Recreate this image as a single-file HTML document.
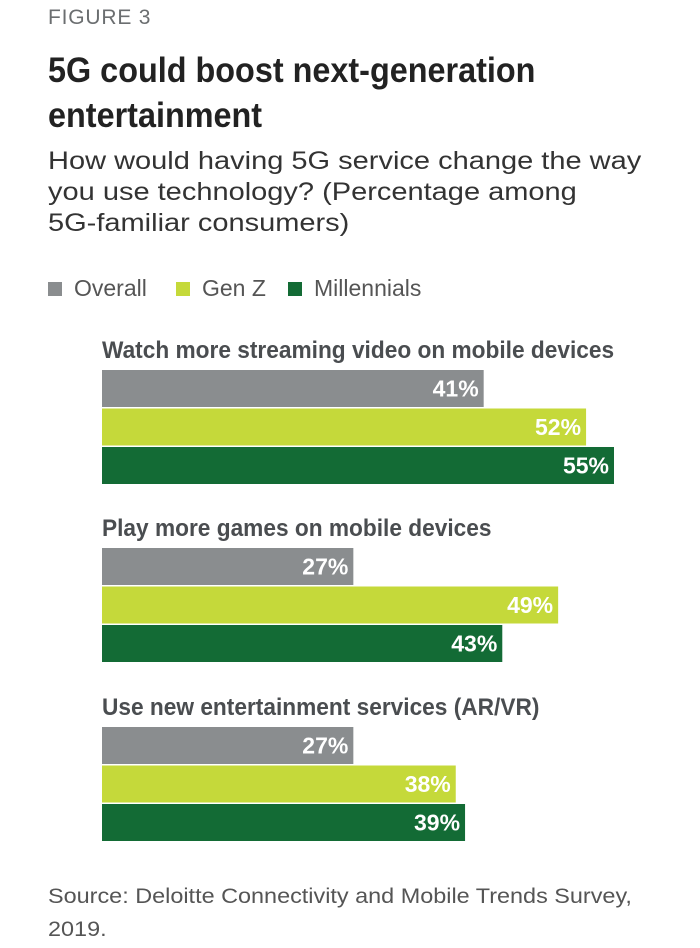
<!DOCTYPE html>
<html><head><meta charset="utf-8"><style>
body{margin:0;background:#fff;width:700px;height:948px;overflow:hidden;font-family:"Liberation Sans",sans-serif;}
.t{position:absolute;white-space:nowrap;transform-origin:0 0;}
</style></head><body>
<div class="t" style="left:48px;top:6px;font-size:21px;color:#6b6e70;letter-spacing:0.8px">FIGURE 3</div>
<div class="t" style="left:48px;top:48px;font-size:35px;line-height:45px;font-weight:bold;color:#222;transform:scaleX(0.925)">5G could boost next-generation<br>entertainment</div>
<div class="t" style="left:48px;top:146px;font-size:25px;line-height:31px;color:#333;transform:scaleX(1.16)">How would having 5G service change the way<br>you use technology? (Percentage among<br>5G-familiar consumers)</div>
<div style="position:absolute;left:48px;top:275px;font-size:23px;color:#555">
<span class="t" style="left:0;top:0"><span style="display:inline-block;width:14px;height:14px;background:#8a8d8f;margin-right:12px"></span>Overall</span>
<span class="t" style="left:128px;top:0"><span style="display:inline-block;width:14px;height:14px;background:#c5d93a;margin-right:12px"></span>Gen Z</span>
<span class="t" style="left:240px;top:0"><span style="display:inline-block;width:14px;height:14px;background:#136b35;margin-right:12px"></span>Millennials</span>
</div>
<svg id="chart" width="700" height="948" style="position:absolute;left:0;top:0"></svg>
<div class="t" style="left:48px;top:880px;font-size:21px;line-height:33px;color:#555;transform:scaleX(1.115)">Source: Deloitte Connectivity and Mobile Trends Survey,<br>2019.</div>
<script>
const categories=["Watch more streaming video on mobile devices","Play more games on mobile devices","Use new entertainment services (AR/VR)"];
const overall=[41,27,27];
const genZ=[52,49,38];
const millennials=[55,43,39];
const series=[overall,genZ,millennials];
const seriesNames=["overall","gen-z","millennials"];
const colors=["#8a8d8f","#c5d93a","#136b35"];
const x0=102, pxPer=(614-102)/55;
const xScale=v=>v*pxPer;
const groupTop=[370,548,727];
const barH=37, gap=1.5;
const svg=document.getElementById('chart');
const NS="http://www.w3.org/2000/svg";
categories.forEach((c,i)=>{
  const lab=document.createElementNS(NS,'text');
  
  
  lab.setAttribute('x',x0);lab.setAttribute('y',groupTop[i]-12);
  lab.setAttribute('font-size','24');lab.setAttribute('font-weight','bold');lab.setAttribute('fill','#4a4d50');
  lab.textContent=c;svg.appendChild(lab);
  const w0=lab.getComputedTextLength();
  lab.setAttribute('textLength',(w0*0.945).toFixed(1));
  lab.setAttribute('lengthAdjust','spacingAndGlyphs');
  series.forEach((s,j)=>{
    const y=groupTop[i]+j*(barH+gap);
    const w=xScale(s[i]);
    const r=document.createElementNS(NS,'rect');
    
    
    r.setAttribute('x',x0);r.setAttribute('y',y);r.setAttribute('width',w);r.setAttribute('height',barH);r.setAttribute('fill',colors[j]);
    svg.appendChild(r);
    const t=document.createElementNS(NS,'text');
    
    
    t.setAttribute('x',x0+w-5);t.setAttribute('y',y+barH/2+8);t.setAttribute('text-anchor','end');
    t.setAttribute('font-size','23');t.setAttribute('font-weight','bold');t.setAttribute('fill','#fff');
    t.textContent=s[i]+'%';svg.appendChild(t);
  });
});
</script>
</body></html>
